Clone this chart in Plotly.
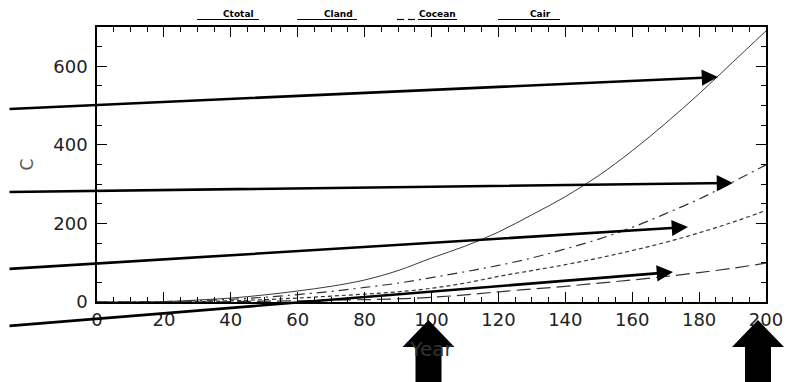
import plotly.graph_objects as go

# ---- data ----
years = [0, 10, 20, 30, 40, 50, 60, 70, 80, 90, 100, 110, 120, 130, 140, 150, 160, 170, 180, 190, 200]
c_total = [0, 0, 1, 5, 10, 18, 28, 40, 56, 80, 112, 142, 178, 222, 268, 322, 385, 455, 530, 610, 690]
c_land = [0, 0, 1, 3, 7, 12, 19, 27, 37, 48, 62, 77, 93, 112, 135, 160, 190, 225, 262, 305, 349]
c_ocean = [0, 0, 0, 1, 3, 6, 10, 15, 20, 26, 35, 48, 65, 80, 95, 112, 131, 152, 176, 203, 233]
c_air = [0, 0, 0, 0, 1, 2, 3, 5, 6, 8, 12, 18, 26, 33, 40, 48, 56, 65, 75, 86, 99]
series_names = ["Ctotal", "Cland", "Cocean", "Cair"]
x_ticks = [0, 20, 40, 60, 80, 100, 120, 140, 160, 180, 200]
y_ticks = [0, 200, 400, 600]
x_range = [0, 200]

# page offset (body margin) compensation
OFF = 8
W, H = 798, 382
PL, PR, PT, PB = 97, 766, 27, 302          # plot area in window pixels
ML, MT = PL - OFF, PT - OFF
MR = (W + OFF) - PR
MB = (H + OFF) - PB
PW, PH = PR - PL, PB - PT
FONT = "DejaVu Sans"


def px2paper_x(px):
    return (px - PL) / PW


def px2paper_y(py):
    return (PB - py) / PH


fig = go.Figure()
styles = [
    dict(color="#3a3a3a", width=1, dash="solid"),
    dict(color="#333333", width=1.2, dash="10px,5px,2px,5px"),
    dict(color="#333333", width=1.2, dash="4px,3px"),
    dict(color="#333333", width=1.2, dash="14px,6px"),
]
for name, vals, st in zip(series_names, [c_total, c_land, c_ocean, c_air], styles):
    fig.add_trace(go.Scatter(x=years, y=vals, mode="lines", name=name,
                             line=dict(shape="spline", **st), showlegend=False))

axis_common = dict(showline=True, linecolor="black", linewidth=1.5, mirror="ticks",
                   ticks="inside", tickcolor="black", tickwidth=1.2, ticklen=10,
                   showgrid=False, zeroline=False,
                   tickfont=dict(family=FONT, size=18, color="#222"))

fig.update_xaxes(range=x_range, tickvals=x_ticks, ticktext=[str(v) for v in x_ticks],
                 minor=dict(dtick=5, ticks="inside", ticklen=5, tickcolor="black", tickwidth=1),
                 title=dict(text="Year", font=dict(family=FONT, size=20, color="#333"),
                            standoff=13),
                 ticklabelstandoff=1, **axis_common)
fig.update_yaxes(range=[0, 700], tickvals=y_ticks, ticktext=[str(v) for v in y_ticks],
                 minor=dict(dtick=50, ticks="inside", ticklen=5, tickcolor="black", tickwidth=1),
                 title=dict(text="C", font=dict(family=FONT, size=17, color="#555"),
                            standoff=15),
                 ticklabelstandoff=4, **axis_common)

# ---- custom legend at top ----
legend_items = [
    ("Ctotal", 197, 259, 238, []),
    ("Cland", 297, 357, 338, []),
    ("Cocean", 418, 457, 438, [(397, 404), (408, 415)]),
    ("Cair", 498, 560, 540, []),
]
shapes = []
annotations = []
for name, x0, x1, xc, dashes in legend_items:
    shapes.append(dict(type="line", xref="paper", yref="paper",
                       x0=px2paper_x(x0), x1=px2paper_x(x1),
                       y0=px2paper_y(19.5), y1=px2paper_y(19.5),
                       line=dict(color="black", width=1.2)))
    for d0, d1 in dashes:
        shapes.append(dict(type="line", xref="paper", yref="paper",
                           x0=px2paper_x(d0), x1=px2paper_x(d1),
                           y0=px2paper_y(19.5), y1=px2paper_y(19.5),
                           line=dict(color="black", width=1.2)))
    annotations.append(dict(text="<b>" + name + "</b>", xref="paper", yref="paper",
                            x=px2paper_x(xc), y=px2paper_y(14), showarrow=False,
                            font=dict(family=FONT, size=9, color="black"),
                            xanchor="center", yanchor="middle"))

# ---- overlaid thin arrows (tip px, tail px) ----
arrow_lines = [((718, 77), (0, 109)), ((733, 183), (0, 192)),
               ((688, 227), (0, 269)), ((673, 272), (0, 326))]
for (tx, ty), (sx, sy) in arrow_lines:
    annotations.append(dict(x=px2paper_x(tx), y=px2paper_y(ty), xref="paper", yref="paper",
                            ax=sx - tx, ay=sy - ty, axref="pixel", ayref="pixel",
                            showarrow=True, arrowhead=2, arrowsize=1.25, arrowwidth=2.6,
                            arrowcolor="black", text=""))

# ---- big block up arrows below axis (anchored at years 100 and 200) ----
for xa, dx in [(100, -3), (200, -8)]:
    cx = PL + (xa - x_range[0]) / (x_range[1] - x_range[0]) * PW + dx
    hw, sw = 26, 13
    pts = [(cx, PB + 18), (cx + hw, PB + 45), (cx + sw, PB + 45), (cx + sw, PB + 95),
           (cx - sw, PB + 95), (cx - sw, PB + 45), (cx - hw, PB + 45)]
    path = "M " + " L ".join(f"{px2paper_x(a):.5f},{px2paper_y(b):.5f}" for a, b in pts) + " Z"
    shapes.append(dict(type="path", xref="paper", yref="paper",
                       path=path, fillcolor="black",
                       line=dict(color="black", width=0), layer="above"))

fig.update_layout(width=W, height=H, margin=dict(l=ML, r=MR, t=MT, b=MB),
                  paper_bgcolor="white", plot_bgcolor="white",
                  shapes=shapes, annotations=annotations, showlegend=False)

fig.write_html("out.html")
